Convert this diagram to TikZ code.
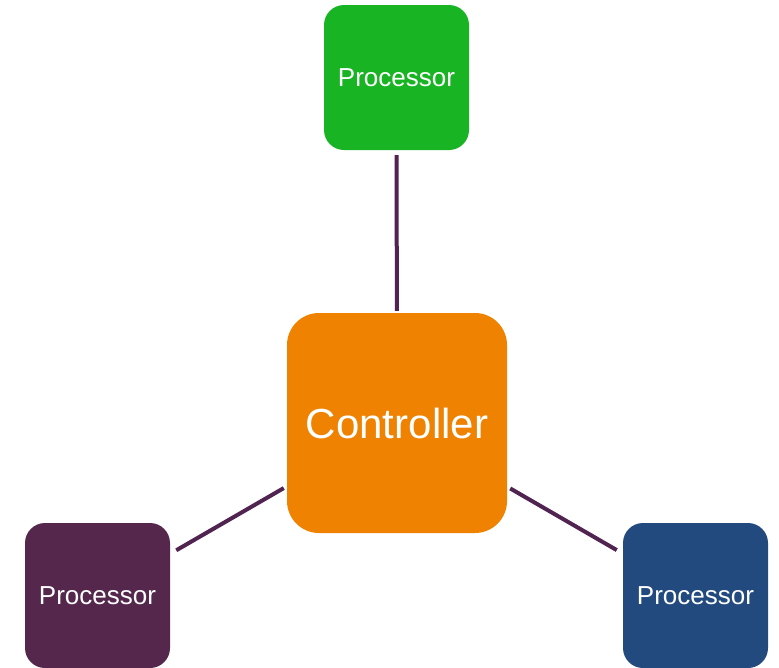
\documentclass[tikz,border=0pt]{standalone}
\usepackage{fontspec}
\setmainfont{Liberation Sans}
\definecolor{procgreen}{RGB}{25,180,36}
\definecolor{ctrlorange}{RGB}{239,130,0}
\definecolor{procpurple}{RGB}{85,39,76}
\definecolor{procblue}{RGB}{34,74,127}
\definecolor{linkpurple}{RGB}{80,35,80}
\begin{document}
\begin{tikzpicture}[x=1pt,y=-1pt,
  procbox/.style={rectangle, rounded corners=20pt, minimum width=145pt, minimum height=145pt,
    inner sep=0pt, text=white, font=\fontsize{26}{30}\selectfont},
  ctrlbox/.style={rectangle, rounded corners=32pt, minimum width=220pt, minimum height=220pt,
    inner sep=0pt, text=white, fill=ctrlorange, font=\fontsize{42}{48}\selectfont},
  link/.style={draw=linkpurple, line width=4pt}]
  \useasboundingbox (0,0) rectangle (779,667);
  % controller in the middle, three processors around it
  \node[ctrlbox] (ctrl) at (397,423) {Controller};
  \node[procbox, fill=procgreen] (ptop) at (396.5,77.5) {Processor};
  \node[procbox, fill=procpurple] (pleft) at (97.5,595.5) {Processor};
  \node[procbox, fill=procblue] (pright) at (695.5,595.5) {Processor};
  % links
  \draw[link, shorten <=5pt, shorten >=2pt] (ptop) -- (ctrl);
  \draw[link, shorten <=3.5pt, shorten >=7pt] (ctrl) -- (pleft);
  \draw[link, shorten <=3.5pt, shorten >=7pt] (ctrl) -- (pright);
\end{tikzpicture}
\end{document}
